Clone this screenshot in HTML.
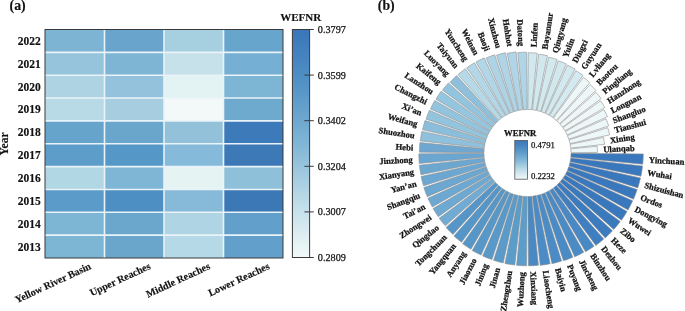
<!DOCTYPE html>
<html><head><meta charset="utf-8"><style>
html,body{margin:0;padding:0;background:#fff;}
svg{display:block;will-change:transform;}
text{font-family:"Liberation Serif", serif;fill:#111;stroke:#111;stroke-width:0.25px;}
text.h{stroke-width:0.15px;}
</style></head><body>
<svg width="685" height="311" viewBox="0 0 685 311">
<rect x="45.00" y="29.50" width="59.50" height="22.85" fill="#7db4d3"/>
<rect x="104.50" y="29.50" width="59.50" height="22.85" fill="#68a4cc"/>
<rect x="164.00" y="29.50" width="59.50" height="22.85" fill="#a6cfe0"/>
<rect x="223.50" y="29.50" width="59.50" height="22.85" fill="#68a5cd"/>
<rect x="45.00" y="52.35" width="59.50" height="22.85" fill="#95c4dc"/>
<rect x="104.50" y="52.35" width="59.50" height="22.85" fill="#7fb5d4"/>
<rect x="164.00" y="52.35" width="59.50" height="22.85" fill="#c6e1ea"/>
<rect x="223.50" y="52.35" width="59.50" height="22.85" fill="#75afd3"/>
<rect x="45.00" y="75.20" width="59.50" height="22.85" fill="#aed4e3"/>
<rect x="104.50" y="75.20" width="59.50" height="22.85" fill="#94c2dc"/>
<rect x="164.00" y="75.20" width="59.50" height="22.85" fill="#e3f2f2"/>
<rect x="223.50" y="75.20" width="59.50" height="22.85" fill="#7db5d5"/>
<rect x="45.00" y="98.05" width="59.50" height="22.85" fill="#b7dae6"/>
<rect x="104.50" y="98.05" width="59.50" height="22.85" fill="#a6cde0"/>
<rect x="164.00" y="98.05" width="59.50" height="22.85" fill="#f3f9f8"/>
<rect x="223.50" y="98.05" width="59.50" height="22.85" fill="#6ea9ce"/>
<rect x="45.00" y="120.90" width="59.50" height="22.85" fill="#66a4cc"/>
<rect x="104.50" y="120.90" width="59.50" height="22.85" fill="#6aa6cb"/>
<rect x="164.00" y="120.90" width="59.50" height="22.85" fill="#92c1d9"/>
<rect x="223.50" y="120.90" width="59.50" height="22.85" fill="#3d7ab9"/>
<rect x="45.00" y="143.75" width="59.50" height="22.85" fill="#5d9dca"/>
<rect x="104.50" y="143.75" width="59.50" height="22.85" fill="#5598c7"/>
<rect x="164.00" y="143.75" width="59.50" height="22.85" fill="#86badb"/>
<rect x="223.50" y="143.75" width="59.50" height="22.85" fill="#3d79b7"/>
<rect x="45.00" y="166.60" width="59.50" height="22.85" fill="#b1d6e4"/>
<rect x="104.50" y="166.60" width="59.50" height="22.85" fill="#80b6d5"/>
<rect x="164.00" y="166.60" width="59.50" height="22.85" fill="#e5f3f2"/>
<rect x="223.50" y="166.60" width="59.50" height="22.85" fill="#8fc0da"/>
<rect x="45.00" y="189.45" width="59.50" height="22.85" fill="#5a9bc9"/>
<rect x="104.50" y="189.45" width="59.50" height="22.85" fill="#4d8fc2"/>
<rect x="164.00" y="189.45" width="59.50" height="22.85" fill="#87bad9"/>
<rect x="223.50" y="189.45" width="59.50" height="22.85" fill="#3c78b6"/>
<rect x="45.00" y="212.30" width="59.50" height="22.85" fill="#7db5d4"/>
<rect x="104.50" y="212.30" width="59.50" height="22.85" fill="#6ba7cc"/>
<rect x="164.00" y="212.30" width="59.50" height="22.85" fill="#afd4e4"/>
<rect x="223.50" y="212.30" width="59.50" height="22.85" fill="#62a0cb"/>
<rect x="45.00" y="235.15" width="59.50" height="22.85" fill="#7db5d4"/>
<rect x="104.50" y="235.15" width="59.50" height="22.85" fill="#6aa6cc"/>
<rect x="164.00" y="235.15" width="59.50" height="22.85" fill="#b5d9e7"/>
<rect x="223.50" y="235.15" width="59.50" height="22.85" fill="#62a0cb"/>
<line x1="104.50" y1="29.5" x2="104.50" y2="258.0" stroke="#e9f3f8" stroke-width="1.6"/>
<line x1="164.00" y1="29.5" x2="164.00" y2="258.0" stroke="#e9f3f8" stroke-width="1.6"/>
<line x1="223.50" y1="29.5" x2="223.50" y2="258.0" stroke="#e9f3f8" stroke-width="1.6"/>
<line x1="45.0" y1="52.35" x2="283.0" y2="52.35" stroke="#e9f3f8" stroke-width="1.6"/>
<line x1="45.0" y1="75.20" x2="283.0" y2="75.20" stroke="#e9f3f8" stroke-width="1.6"/>
<line x1="45.0" y1="98.05" x2="283.0" y2="98.05" stroke="#e9f3f8" stroke-width="1.6"/>
<line x1="45.0" y1="120.90" x2="283.0" y2="120.90" stroke="#e9f3f8" stroke-width="1.6"/>
<line x1="45.0" y1="143.75" x2="283.0" y2="143.75" stroke="#e9f3f8" stroke-width="1.6"/>
<line x1="45.0" y1="166.60" x2="283.0" y2="166.60" stroke="#e9f3f8" stroke-width="1.6"/>
<line x1="45.0" y1="189.45" x2="283.0" y2="189.45" stroke="#e9f3f8" stroke-width="1.6"/>
<line x1="45.0" y1="212.30" x2="283.0" y2="212.30" stroke="#e9f3f8" stroke-width="1.6"/>
<line x1="45.0" y1="235.15" x2="283.0" y2="235.15" stroke="#e9f3f8" stroke-width="1.6"/>
<rect x="45.0" y="29.5" width="238.0" height="228.5" fill="none" stroke="#3a3a3a" stroke-width="1"/>
<text class="h" x="40.8" y="40.92" font-size="11.5" font-weight="bold" text-anchor="end" dominant-baseline="central">2022</text>
<text class="h" x="40.8" y="63.78" font-size="11.5" font-weight="bold" text-anchor="end" dominant-baseline="central">2021</text>
<text class="h" x="40.8" y="86.62" font-size="11.5" font-weight="bold" text-anchor="end" dominant-baseline="central">2020</text>
<text class="h" x="40.8" y="109.48" font-size="11.5" font-weight="bold" text-anchor="end" dominant-baseline="central">2019</text>
<text class="h" x="40.8" y="132.32" font-size="11.5" font-weight="bold" text-anchor="end" dominant-baseline="central">2018</text>
<text class="h" x="40.8" y="155.18" font-size="11.5" font-weight="bold" text-anchor="end" dominant-baseline="central">2017</text>
<text class="h" x="40.8" y="178.03" font-size="11.5" font-weight="bold" text-anchor="end" dominant-baseline="central">2016</text>
<text class="h" x="40.8" y="200.88" font-size="11.5" font-weight="bold" text-anchor="end" dominant-baseline="central">2015</text>
<text class="h" x="40.8" y="223.73" font-size="11.5" font-weight="bold" text-anchor="end" dominant-baseline="central">2014</text>
<text class="h" x="40.8" y="246.58" font-size="11.5" font-weight="bold" text-anchor="end" dominant-baseline="central">2013</text>
<text class="h" transform="translate(8.3,144) rotate(-90)" font-size="11.5" font-weight="bold" text-anchor="middle" dominant-baseline="auto">Year</text>
<text class="h" transform="translate(91.75,268.5) rotate(-25)" font-size="10.2" font-weight="bold" text-anchor="end">Yellow River Basin</text>
<text class="h" transform="translate(151.25,268.5) rotate(-25)" font-size="10.2" font-weight="bold" text-anchor="end">Upper Reaches</text>
<text class="h" transform="translate(210.75,268.5) rotate(-25)" font-size="10.2" font-weight="bold" text-anchor="end">Middle Reaches</text>
<text class="h" transform="translate(270.25,268.5) rotate(-25)" font-size="10.2" font-weight="bold" text-anchor="end">Lower Reaches</text>
<defs><linearGradient id="cbA" x1="0" y1="1" x2="0" y2="0"><stop offset="0" stop-color="#f2f9f7"/><stop offset="0.12" stop-color="#d9ebf0"/><stop offset="0.25" stop-color="#bcdbe8"/><stop offset="0.5" stop-color="#80b5d6"/><stop offset="0.75" stop-color="#5494c6"/><stop offset="0.87" stop-color="#4685c0"/><stop offset="1" stop-color="#3a76b9"/></linearGradient><linearGradient id="cbB" x1="0" y1="1" x2="0" y2="0"><stop offset="0" stop-color="#f2f9f7"/><stop offset="0.12" stop-color="#d9ebf0"/><stop offset="0.25" stop-color="#bcdbe8"/><stop offset="0.5" stop-color="#80b5d6"/><stop offset="0.75" stop-color="#5494c6"/><stop offset="0.87" stop-color="#4685c0"/><stop offset="1" stop-color="#3a76b9"/></linearGradient></defs>
<rect x="292.4" y="29.5" width="17.20" height="228.00" fill="url(#cbA)" stroke="#3a3a3a" stroke-width="1"/>
<line x1="304.40" y1="257.50" x2="313.80" y2="257.50" stroke="#3a3a3a" stroke-width="1"/>
<text x="317.8" y="257.50" font-size="10.2" dominant-baseline="central">0.2809</text>
<line x1="304.40" y1="211.90" x2="313.80" y2="211.90" stroke="#3a3a3a" stroke-width="1"/>
<text x="317.8" y="211.90" font-size="10.2" dominant-baseline="central">0.3007</text>
<line x1="304.40" y1="166.30" x2="313.80" y2="166.30" stroke="#3a3a3a" stroke-width="1"/>
<text x="317.8" y="166.30" font-size="10.2" dominant-baseline="central">0.3204</text>
<line x1="304.40" y1="120.70" x2="313.80" y2="120.70" stroke="#3a3a3a" stroke-width="1"/>
<text x="317.8" y="120.70" font-size="10.2" dominant-baseline="central">0.3402</text>
<line x1="304.40" y1="75.10" x2="313.80" y2="75.10" stroke="#3a3a3a" stroke-width="1"/>
<text x="317.8" y="75.10" font-size="10.2" dominant-baseline="central">0.3599</text>
<line x1="304.40" y1="29.50" x2="313.80" y2="29.50" stroke="#3a3a3a" stroke-width="1"/>
<text x="317.8" y="29.50" font-size="10.2" dominant-baseline="central">0.3797</text>
<text class="h" x="280.2" y="21" font-size="11" font-weight="bold">WEFNR</text>
<text class="h" x="9.6" y="9.8" font-size="13.8" font-weight="bold" dominant-baseline="auto">(a)</text>
<text class="h" x="377.8" y="9.8" font-size="13.8" font-weight="bold" dominant-baseline="auto">(b)</text>
<path d="M571.00,153.34 L643.30,153.91 A115.80,115.80 0 0 1 642.76,164.20 L570.80,157.21 A43.5,43.5 0 0 0 571.00,153.34 Z" fill="#3a78bd" stroke="#8e8e8e" stroke-width="0.6" stroke-linejoin="miter"/>
<path d="M570.72,157.89 L642.57,166.01 A115.80,115.80 0 0 1 640.96,176.19 L570.12,161.71 A43.5,43.5 0 0 0 570.72,157.89 Z" fill="#3a78bd" stroke="#8e8e8e" stroke-width="0.6" stroke-linejoin="miter"/>
<path d="M569.98,162.38 L640.50,177.95 A115.72,115.72 0 0 1 637.84,187.90 L568.98,166.12 A43.5,43.5 0 0 0 569.98,162.38 Z" fill="#3a78bd" stroke="#8e8e8e" stroke-width="0.6" stroke-linejoin="miter"/>
<path d="M568.76,166.77 L637.21,189.60 A115.65,115.65 0 0 1 633.52,199.21 L567.38,170.38 A43.5,43.5 0 0 0 568.76,166.77 Z" fill="#3a78bd" stroke="#8e8e8e" stroke-width="0.6" stroke-linejoin="miter"/>
<path d="M567.10,171.00 L632.71,200.84 A115.58,115.58 0 0 1 628.04,210.00 L565.34,174.45 A43.5,43.5 0 0 0 567.10,171.00 Z" fill="#3a78bd" stroke="#8e8e8e" stroke-width="0.6" stroke-linejoin="miter"/>
<path d="M565.00,175.05 L627.07,211.53 A115.50,115.50 0 0 1 621.47,220.15 L562.89,178.29 A43.5,43.5 0 0 0 565.00,175.05 Z" fill="#3a78bd" stroke="#8e8e8e" stroke-width="0.6" stroke-linejoin="miter"/>
<path d="M562.49,178.84 L620.27,221.52 A115.33,115.33 0 0 1 613.81,229.50 L560.05,181.85 A43.5,43.5 0 0 0 562.49,178.84 Z" fill="#3b79bd" stroke="#8e8e8e" stroke-width="0.6" stroke-linejoin="miter"/>
<path d="M559.60,182.36 L612.48,230.73 A115.17,115.17 0 0 1 605.23,237.98 L556.86,185.10 A43.5,43.5 0 0 0 559.60,182.36 Z" fill="#3c7bbe" stroke="#8e8e8e" stroke-width="0.6" stroke-linejoin="miter"/>
<path d="M556.35,185.55 L603.78,239.06 A115.00,115.00 0 0 1 595.82,245.50 L553.34,187.99 A43.5,43.5 0 0 0 556.35,185.55 Z" fill="#3f7ec0" stroke="#8e8e8e" stroke-width="0.6" stroke-linejoin="miter"/>
<path d="M552.79,188.39 L594.09,246.19 A114.53,114.53 0 0 1 585.54,251.74 L549.55,190.50 A43.5,43.5 0 0 0 552.79,188.39 Z" fill="#4888c5" stroke="#8e8e8e" stroke-width="0.6" stroke-linejoin="miter"/>
<path d="M548.95,190.84 L583.76,252.23 A114.07,114.07 0 0 1 574.71,256.84 L545.50,192.60 A43.5,43.5 0 0 0 548.95,190.84 Z" fill="#4a8bc6" stroke="#8e8e8e" stroke-width="0.6" stroke-linejoin="miter"/>
<path d="M544.88,192.88 L572.89,257.14 A113.60,113.60 0 0 1 563.45,260.76 L541.27,194.26 A43.5,43.5 0 0 0 544.88,192.88 Z" fill="#4a8bc6" stroke="#8e8e8e" stroke-width="0.6" stroke-linejoin="miter"/>
<path d="M540.62,194.48 L561.67,261.06 A113.33,113.33 0 0 1 551.93,263.67 L536.88,195.48 A43.5,43.5 0 0 0 540.62,194.48 Z" fill="#4b8cc6" stroke="#8e8e8e" stroke-width="0.6" stroke-linejoin="miter"/>
<path d="M536.21,195.62 L550.14,263.78 A113.07,113.07 0 0 1 540.20,265.35 L532.39,196.22 A43.5,43.5 0 0 0 536.21,195.62 Z" fill="#4b8cc6" stroke="#8e8e8e" stroke-width="0.6" stroke-linejoin="miter"/>
<path d="M531.71,196.30 L538.41,265.27 A112.80,112.80 0 0 1 528.39,265.80 L527.84,196.50 A43.5,43.5 0 0 0 531.71,196.30 Z" fill="#4a8ac4" stroke="#8e8e8e" stroke-width="0.6" stroke-linejoin="miter"/>
<path d="M527.16,196.50 L526.61,265.80 A112.80,112.80 0 0 1 516.59,265.27 L523.29,196.30 A43.5,43.5 0 0 0 527.16,196.50 Z" fill="#5c9ecb" stroke="#8e8e8e" stroke-width="0.6" stroke-linejoin="miter"/>
<path d="M522.61,196.22 L514.83,265.09 A112.80,112.80 0 0 1 504.91,263.52 L518.79,195.62 A43.5,43.5 0 0 0 522.61,196.22 Z" fill="#5a9dca" stroke="#8e8e8e" stroke-width="0.6" stroke-linejoin="miter"/>
<path d="M518.12,195.48 L503.23,262.92 A112.57,112.57 0 0 1 493.56,260.33 L514.38,194.48 A43.5,43.5 0 0 0 518.12,195.48 Z" fill="#5a9bca" stroke="#8e8e8e" stroke-width="0.6" stroke-linejoin="miter"/>
<path d="M513.73,194.26 L491.95,259.56 A112.33,112.33 0 0 1 482.62,255.98 L510.12,192.88 A43.5,43.5 0 0 0 513.73,194.26 Z" fill="#5899c9" stroke="#8e8e8e" stroke-width="0.6" stroke-linejoin="miter"/>
<path d="M509.50,192.60 L481.10,255.05 A112.10,112.10 0 0 1 472.21,250.52 L506.05,190.84 A43.5,43.5 0 0 0 509.50,192.60 Z" fill="#5798c8" stroke="#8e8e8e" stroke-width="0.6" stroke-linejoin="miter"/>
<path d="M505.45,190.50 L470.98,249.15 A111.53,111.53 0 0 1 462.65,243.74 L502.21,188.39 A43.5,43.5 0 0 0 505.45,190.50 Z" fill="#5697c8" stroke="#8e8e8e" stroke-width="0.6" stroke-linejoin="miter"/>
<path d="M501.66,187.99 L461.57,242.26 A110.97,110.97 0 0 1 453.90,236.04 L498.65,185.55 A43.5,43.5 0 0 0 501.66,187.99 Z" fill="#5596c8" stroke="#8e8e8e" stroke-width="0.6" stroke-linejoin="miter"/>
<path d="M498.14,185.10 L452.99,234.46 A110.40,110.40 0 0 1 446.04,227.51 L495.40,182.36 A43.5,43.5 0 0 0 498.14,185.10 Z" fill="#5595c7" stroke="#8e8e8e" stroke-width="0.6" stroke-linejoin="miter"/>
<path d="M494.95,181.85 L445.33,225.83 A109.80,109.80 0 0 1 439.18,218.23 L492.51,178.84 A43.5,43.5 0 0 0 494.95,181.85 Z" fill="#70abd3" stroke="#8e8e8e" stroke-width="0.6" stroke-linejoin="miter"/>
<path d="M492.11,178.29 L438.33,216.72 A109.60,109.60 0 0 1 433.02,208.54 L490.00,175.05 A43.5,43.5 0 0 0 492.11,178.29 Z" fill="#6ea9d2" stroke="#8e8e8e" stroke-width="0.6" stroke-linejoin="miter"/>
<path d="M489.66,174.45 L432.33,206.95 A109.40,109.40 0 0 1 427.91,198.28 L487.90,171.00 A43.5,43.5 0 0 0 489.66,174.45 Z" fill="#6ca8d1" stroke="#8e8e8e" stroke-width="0.6" stroke-linejoin="miter"/>
<path d="M487.62,170.38 L427.30,196.67 A109.30,109.30 0 0 1 423.82,187.59 L486.24,166.77 A43.5,43.5 0 0 0 487.62,170.38 Z" fill="#6ba7d1" stroke="#8e8e8e" stroke-width="0.6" stroke-linejoin="miter"/>
<path d="M486.02,166.12 L423.57,185.87 A109.00,109.00 0 0 1 421.06,176.50 L485.02,162.38 A43.5,43.5 0 0 0 486.02,166.12 Z" fill="#6ca7d1" stroke="#8e8e8e" stroke-width="0.6" stroke-linejoin="miter"/>
<path d="M484.88,161.71 L420.90,174.78 A108.80,108.80 0 0 1 419.39,165.22 L484.28,157.89 A43.5,43.5 0 0 0 484.88,161.71 Z" fill="#6ca7d0" stroke="#8e8e8e" stroke-width="0.6" stroke-linejoin="miter"/>
<path d="M484.20,157.21 L419.31,163.51 A108.70,108.70 0 0 1 418.80,153.85 L484.00,153.34 A43.5,43.5 0 0 0 484.20,157.21 Z" fill="#6ba6d0" stroke="#8e8e8e" stroke-width="0.6" stroke-linejoin="miter"/>
<path d="M484.00,152.66 L419.40,152.15 A108.10,108.10 0 0 1 419.91,142.55 L484.20,148.79 A43.5,43.5 0 0 0 484.00,152.66 Z" fill="#6fa7d0" stroke="#8e8e8e" stroke-width="0.6" stroke-linejoin="miter"/>
<path d="M484.28,148.11 L420.28,140.88 A107.90,107.90 0 0 1 421.78,131.40 L484.88,144.29 A43.5,43.5 0 0 0 484.28,148.11 Z" fill="#8fc0dc" stroke="#8e8e8e" stroke-width="0.6" stroke-linejoin="miter"/>
<path d="M485.02,143.62 L422.53,129.82 A107.50,107.50 0 0 1 425.00,120.58 L486.02,139.88 A43.5,43.5 0 0 0 485.02,143.62 Z" fill="#8bbedb" stroke="#8e8e8e" stroke-width="0.6" stroke-linejoin="miter"/>
<path d="M486.24,139.23 L426.00,119.14 A107.00,107.00 0 0 1 429.41,110.25 L487.62,135.62 A43.5,43.5 0 0 0 486.24,139.23 Z" fill="#93c4de" stroke="#8e8e8e" stroke-width="0.6" stroke-linejoin="miter"/>
<path d="M487.90,135.00 L430.46,108.88 A106.60,106.60 0 0 1 434.77,100.43 L489.66,131.55 A43.5,43.5 0 0 0 487.90,135.00 Z" fill="#93c4de" stroke="#8e8e8e" stroke-width="0.6" stroke-linejoin="miter"/>
<path d="M490.00,130.95 L435.95,99.18 A106.20,106.20 0 0 1 441.09,91.25 L492.11,127.71 A43.5,43.5 0 0 0 490.00,130.95 Z" fill="#95c6df" stroke="#8e8e8e" stroke-width="0.6" stroke-linejoin="miter"/>
<path d="M492.51,127.16 L442.48,90.20 A105.70,105.70 0 0 1 448.40,82.89 L494.95,124.15 A43.5,43.5 0 0 0 492.51,127.16 Z" fill="#93c4de" stroke="#8e8e8e" stroke-width="0.6" stroke-linejoin="miter"/>
<path d="M495.40,123.64 L450.10,82.20 A104.90,104.90 0 0 1 456.70,75.60 L498.14,120.90 A43.5,43.5 0 0 0 495.40,123.64 Z" fill="#8ec0dc" stroke="#8e8e8e" stroke-width="0.6" stroke-linejoin="miter"/>
<path d="M498.65,120.45 L458.01,74.60 A104.77,104.77 0 0 1 465.26,68.73 L501.66,118.01 A43.5,43.5 0 0 0 498.65,120.45 Z" fill="#b6d9e8" stroke="#8e8e8e" stroke-width="0.6" stroke-linejoin="miter"/>
<path d="M502.21,117.61 L466.66,67.87 A104.63,104.63 0 0 1 474.47,62.80 L505.45,115.50 A43.5,43.5 0 0 0 502.21,117.61 Z" fill="#b3d7e7" stroke="#8e8e8e" stroke-width="0.6" stroke-linejoin="miter"/>
<path d="M506.05,115.16 L475.96,62.09 A104.50,104.50 0 0 1 484.25,57.87 L509.50,113.40 A43.5,43.5 0 0 0 506.05,115.16 Z" fill="#b1d6e7" stroke="#8e8e8e" stroke-width="0.6" stroke-linejoin="miter"/>
<path d="M510.12,113.12 L486.12,58.05 A103.58,103.58 0 0 1 494.72,54.75 L513.73,111.74 A43.5,43.5 0 0 0 510.12,113.12 Z" fill="#aed3e5" stroke="#8e8e8e" stroke-width="0.6" stroke-linejoin="miter"/>
<path d="M514.38,111.52 L496.55,55.13 A102.65,102.65 0 0 1 505.37,52.76 L518.12,110.52 A43.5,43.5 0 0 0 514.38,111.52 Z" fill="#afd4e6" stroke="#8e8e8e" stroke-width="0.6" stroke-linejoin="miter"/>
<path d="M518.79,110.38 L507.13,53.33 A101.72,101.72 0 0 1 516.07,51.92 L522.61,109.78 A43.5,43.5 0 0 0 518.79,110.38 Z" fill="#b1d5e7" stroke="#8e8e8e" stroke-width="0.6" stroke-linejoin="miter"/>
<path d="M523.29,109.70 L517.75,52.67 A100.80,100.80 0 0 1 526.71,52.20 L527.16,109.50 A43.5,43.5 0 0 0 523.29,109.70 Z" fill="#b0d5e6" stroke="#8e8e8e" stroke-width="0.6" stroke-linejoin="miter"/>
<path d="M527.84,109.50 L528.29,52.70 A100.30,100.30 0 0 1 537.20,53.17 L531.71,109.70 A43.5,43.5 0 0 0 527.84,109.50 Z" fill="#d0e8ee" stroke="#8e8e8e" stroke-width="0.6" stroke-linejoin="miter"/>
<path d="M532.39,109.78 L538.67,54.23 A99.40,99.40 0 0 1 547.40,55.61 L536.21,110.38 A43.5,43.5 0 0 0 532.39,109.78 Z" fill="#d1e8ef" stroke="#8e8e8e" stroke-width="0.6" stroke-linejoin="miter"/>
<path d="M536.88,110.52 L548.65,57.21 A98.10,98.10 0 0 1 557.08,59.47 L540.62,111.52 A43.5,43.5 0 0 0 536.88,110.52 Z" fill="#d2e9ef" stroke="#8e8e8e" stroke-width="0.6" stroke-linejoin="miter"/>
<path d="M541.27,111.74 L558.26,60.80 A97.20,97.20 0 0 1 566.34,63.90 L544.88,113.12 A43.5,43.5 0 0 0 541.27,111.74 Z" fill="#d1e8ef" stroke="#8e8e8e" stroke-width="0.6" stroke-linejoin="miter"/>
<path d="M545.50,113.40 L567.44,65.15 A96.50,96.50 0 0 1 575.09,69.05 L548.95,115.16 A43.5,43.5 0 0 0 545.50,113.40 Z" fill="#d2e9ef" stroke="#8e8e8e" stroke-width="0.6" stroke-linejoin="miter"/>
<path d="M549.55,115.50 L575.90,70.67 A95.50,95.50 0 0 1 583.02,75.30 L552.79,117.61 A43.5,43.5 0 0 0 549.55,115.50 Z" fill="#d3eaf0" stroke="#8e8e8e" stroke-width="0.6" stroke-linejoin="miter"/>
<path d="M553.34,118.01 L583.35,77.39 A94.00,94.00 0 0 1 589.85,82.65 L556.35,120.45 A43.5,43.5 0 0 0 553.34,118.01 Z" fill="#eef7f7" stroke="#8e8e8e" stroke-width="0.6" stroke-linejoin="miter"/>
<path d="M556.86,120.90 L590.14,84.53 A92.80,92.80 0 0 1 595.97,90.36 L559.60,123.64 A43.5,43.5 0 0 0 556.86,120.90 Z" fill="#eef7f7" stroke="#8e8e8e" stroke-width="0.6" stroke-linejoin="miter"/>
<path d="M560.05,124.15 L595.98,92.31 A91.50,91.50 0 0 1 601.10,98.64 L562.49,127.16 A43.5,43.5 0 0 0 560.05,124.15 Z" fill="#eef7f7" stroke="#8e8e8e" stroke-width="0.6" stroke-linejoin="miter"/>
<path d="M562.89,127.71 L600.48,100.85 A89.70,89.70 0 0 1 604.83,107.54 L565.00,130.95 A43.5,43.5 0 0 0 562.89,127.71 Z" fill="#eef7f7" stroke="#8e8e8e" stroke-width="0.6" stroke-linejoin="miter"/>
<path d="M565.34,131.55 L603.97,109.65 A87.90,87.90 0 0 1 607.52,116.62 L567.10,135.00 A43.5,43.5 0 0 0 565.34,131.55 Z" fill="#eef7f7" stroke="#8e8e8e" stroke-width="0.6" stroke-linejoin="miter"/>
<path d="M567.38,135.62 L605.97,118.80 A85.60,85.60 0 0 1 608.70,125.91 L568.76,139.23 A43.5,43.5 0 0 0 567.38,135.62 Z" fill="#eef7f7" stroke="#8e8e8e" stroke-width="0.6" stroke-linejoin="miter"/>
<path d="M568.98,139.88 L607.69,127.64 A84.10,84.10 0 0 1 609.62,134.87 L569.98,143.62 A43.5,43.5 0 0 0 568.98,139.88 Z" fill="#eef7f7" stroke="#8e8e8e" stroke-width="0.6" stroke-linejoin="miter"/>
<path d="M570.12,144.29 L603.53,137.46 A77.60,77.60 0 0 1 604.61,144.28 L570.72,148.11 A43.5,43.5 0 0 0 570.12,144.29 Z" fill="#eef7f7" stroke="#8e8e8e" stroke-width="0.6" stroke-linejoin="miter"/>
<path d="M570.80,148.79 L597.17,146.23 A70.00,70.00 0 0 1 597.50,152.45 L571.00,152.66 A43.5,43.5 0 0 0 570.80,148.79 Z" fill="#eef7f7" stroke="#8e8e8e" stroke-width="0.6" stroke-linejoin="miter"/>
<text transform="translate(648.93,159.36) rotate(3.0)" font-size="8.6" font-weight="bold" text-anchor="start" dominant-baseline="central" dy="0.5">Yinchuan</text>
<text transform="translate(647.60,172.02) rotate(9.0)" font-size="8.6" font-weight="bold" text-anchor="start" dominant-baseline="central" dy="0.5">Wuhai</text>
<text transform="translate(644.88,184.45) rotate(15.0)" font-size="8.6" font-weight="bold" text-anchor="start" dominant-baseline="central" dy="0.5">Shizuishan</text>
<text transform="translate(640.88,196.52) rotate(21.0)" font-size="8.6" font-weight="bold" text-anchor="start" dominant-baseline="central" dy="0.5">Ordos</text>
<text transform="translate(635.65,208.10) rotate(27.0)" font-size="8.6" font-weight="bold" text-anchor="start" dominant-baseline="central" dy="0.5">Dongying</text>
<text transform="translate(629.23,219.06) rotate(33.0)" font-size="8.6" font-weight="bold" text-anchor="start" dominant-baseline="central" dy="0.5">Wuwei</text>
<text transform="translate(621.64,229.23) rotate(39.0)" font-size="8.6" font-weight="bold" text-anchor="start" dominant-baseline="central" dy="0.5">Zibo</text>
<text transform="translate(613.04,238.54) rotate(45.0)" font-size="8.6" font-weight="bold" text-anchor="start" dominant-baseline="central" dy="0.5">Heze</text>
<text transform="translate(603.52,246.88) rotate(51.0)" font-size="8.6" font-weight="bold" text-anchor="start" dominant-baseline="central" dy="0.5">Dezhou</text>
<text transform="translate(593.04,253.92) rotate(57.0)" font-size="8.6" font-weight="bold" text-anchor="start" dominant-baseline="central" dy="0.5">Binzhou</text>
<text transform="translate(581.92,259.80) rotate(63.0)" font-size="8.6" font-weight="bold" text-anchor="start" dominant-baseline="central" dy="0.5">Jincheng</text>
<text transform="translate(570.29,264.47) rotate(69.0)" font-size="8.6" font-weight="bold" text-anchor="start" dominant-baseline="central" dy="0.5">Puyang</text>
<text transform="translate(558.33,268.07) rotate(75.0)" font-size="8.6" font-weight="bold" text-anchor="start" dominant-baseline="central" dy="0.5">Baiyin</text>
<text transform="translate(546.09,270.40) rotate(81.0)" font-size="8.6" font-weight="bold" text-anchor="start" dominant-baseline="central" dy="0.5">Liaocheng</text>
<text transform="translate(533.71,271.44) rotate(87.0)" font-size="8.6" font-weight="bold" text-anchor="start" dominant-baseline="central" dy="0.5">Xinxiang</text>
<text transform="translate(521.27,271.94) rotate(-87.0)" font-size="8.6" font-weight="bold" text-anchor="end" dominant-baseline="central" dy="0.5">Wuzhong</text>
<text transform="translate(508.87,270.63) rotate(-81.0)" font-size="8.6" font-weight="bold" text-anchor="end" dominant-baseline="central" dy="0.5">Zhengzhou</text>
<text transform="translate(496.74,267.82) rotate(-75.0)" font-size="8.6" font-weight="bold" text-anchor="end" dominant-baseline="central" dy="0.5">Jinan</text>
<text transform="translate(484.99,263.75) rotate(-69.0)" font-size="8.6" font-weight="bold" text-anchor="end" dominant-baseline="central" dy="0.5">Jining</text>
<text transform="translate(473.75,258.50) rotate(-63.0)" font-size="8.6" font-weight="bold" text-anchor="end" dominant-baseline="central" dy="0.5">Jiaozuo</text>
<text transform="translate(463.32,251.82) rotate(-57.0)" font-size="8.6" font-weight="bold" text-anchor="end" dominant-baseline="central" dy="0.5">Anyang</text>
<text transform="translate(453.70,244.13) rotate(-51.0)" font-size="8.6" font-weight="bold" text-anchor="end" dominant-baseline="central" dy="0.5">Yangquan</text>
<text transform="translate(444.98,235.52) rotate(-45.0)" font-size="8.6" font-weight="bold" text-anchor="end" dominant-baseline="central" dy="0.5">Tongchuan</text>
<text transform="translate(437.27,226.06) rotate(-39.0)" font-size="8.6" font-weight="bold" text-anchor="end" dominant-baseline="central" dy="0.5">Qingdao</text>
<text transform="translate(430.30,216.12) rotate(-33.0)" font-size="8.6" font-weight="bold" text-anchor="end" dominant-baseline="central" dy="0.5">Zhongwei</text>
<text transform="translate(424.41,205.53) rotate(-27.0)" font-size="8.6" font-weight="bold" text-anchor="end" dominant-baseline="central" dy="0.5">Tai’an</text>
<text transform="translate(419.58,194.43) rotate(-21.0)" font-size="8.6" font-weight="bold" text-anchor="end" dominant-baseline="central" dy="0.5">Shangqiu</text>
<text transform="translate(416.13,182.84) rotate(-15.0)" font-size="8.6" font-weight="bold" text-anchor="end" dominant-baseline="central" dy="0.5">Yan’an</text>
<text transform="translate(413.82,171.01) rotate(-9.0)" font-size="8.6" font-weight="bold" text-anchor="end" dominant-baseline="central" dy="0.5">Xianyang</text>
<text transform="translate(412.66,159.02) rotate(-3.0)" font-size="8.6" font-weight="bold" text-anchor="end" dominant-baseline="central" dy="0.5">Jinzhong</text>
<text transform="translate(413.26,147.01) rotate(3.0)" font-size="8.6" font-weight="bold" text-anchor="end" dominant-baseline="central" dy="0.5">Hebi</text>
<text transform="translate(414.71,135.14) rotate(9.0)" font-size="8.6" font-weight="bold" text-anchor="end" dominant-baseline="central" dy="0.5">Shuozhou</text>
<text transform="translate(417.58,123.55) rotate(15.0)" font-size="8.6" font-weight="bold" text-anchor="end" dominant-baseline="central" dy="0.5">Weifang</text>
<text transform="translate(421.73,112.40) rotate(21.0)" font-size="8.6" font-weight="bold" text-anchor="end" dominant-baseline="central" dy="0.5">Xi’an</text>
<text transform="translate(426.91,101.74) rotate(27.0)" font-size="8.6" font-weight="bold" text-anchor="end" dominant-baseline="central" dy="0.5">Changzhi</text>
<text transform="translate(433.15,91.73) rotate(33.0)" font-size="8.6" font-weight="bold" text-anchor="end" dominant-baseline="central" dy="0.5">Lanzhou</text>
<text transform="translate(440.46,82.52) rotate(39.0)" font-size="8.6" font-weight="bold" text-anchor="end" dominant-baseline="central" dy="0.5">Kaifeng</text>
<text transform="translate(448.87,74.37) rotate(45.0)" font-size="8.6" font-weight="bold" text-anchor="end" dominant-baseline="central" dy="0.5">Luoyang</text>
<text transform="translate(457.60,66.68) rotate(51.0)" font-size="8.6" font-weight="bold" text-anchor="end" dominant-baseline="central" dy="0.5">Taiyuan</text>
<text transform="translate(467.08,59.96) rotate(57.0)" font-size="8.6" font-weight="bold" text-anchor="end" dominant-baseline="central" dy="0.5">Yuncheng</text>
<text transform="translate(477.20,54.28) rotate(63.0)" font-size="8.6" font-weight="bold" text-anchor="end" dominant-baseline="central" dy="0.5">Weinan</text>
<text transform="translate(488.12,50.42) rotate(69.0)" font-size="8.6" font-weight="bold" text-anchor="end" dominant-baseline="central" dy="0.5">Baoji</text>
<text transform="translate(499.30,47.76) rotate(75.0)" font-size="8.6" font-weight="bold" text-anchor="end" dominant-baseline="central" dy="0.5">Xinzhou</text>
<text transform="translate(510.60,46.30) rotate(81.0)" font-size="8.6" font-weight="bold" text-anchor="end" dominant-baseline="central" dy="0.5">Hohhot</text>
<text transform="translate(521.89,46.05) rotate(87.0)" font-size="8.6" font-weight="bold" text-anchor="end" dominant-baseline="central" dy="0.5">Datong</text>
<text transform="translate(533.05,47.05) rotate(273.0)" font-size="8.6" font-weight="bold" text-anchor="start" dominant-baseline="central" dy="0.5">Linfen</text>
<text transform="translate(543.96,49.10) rotate(279.0)" font-size="8.6" font-weight="bold" text-anchor="start" dominant-baseline="central" dy="0.5">Bayannur</text>
<text transform="translate(554.39,52.64) rotate(285.0)" font-size="8.6" font-weight="bold" text-anchor="start" dominant-baseline="central" dy="0.5">Qingyang</text>
<text transform="translate(564.41,56.84) rotate(291.0)" font-size="8.6" font-weight="bold" text-anchor="start" dominant-baseline="central" dy="0.5">Yulin</text>
<text transform="translate(573.94,61.85) rotate(297.0)" font-size="8.6" font-weight="bold" text-anchor="start" dominant-baseline="central" dy="0.5">Dingxi</text>
<text transform="translate(582.67,68.04) rotate(303.0)" font-size="8.6" font-weight="bold" text-anchor="start" dominant-baseline="central" dy="0.5">Guyuan</text>
<text transform="translate(590.31,75.44) rotate(309.0)" font-size="8.6" font-weight="bold" text-anchor="start" dominant-baseline="central" dy="0.5">Lvliang</text>
<text transform="translate(597.22,83.28) rotate(315.0)" font-size="8.6" font-weight="bold" text-anchor="start" dominant-baseline="central" dy="0.5">Baotou</text>
<text transform="translate(603.12,91.77) rotate(321.0)" font-size="8.6" font-weight="bold" text-anchor="start" dominant-baseline="central" dy="0.5">Pingliang</text>
<text transform="translate(607.59,100.99) rotate(327.0)" font-size="8.6" font-weight="bold" text-anchor="start" dominant-baseline="central" dy="0.5">Hanzhong</text>
<text transform="translate(610.99,110.46) rotate(333.0)" font-size="8.6" font-weight="bold" text-anchor="start" dominant-baseline="central" dy="0.5">Longnan</text>
<text transform="translate(612.83,120.25) rotate(339.0)" font-size="8.6" font-weight="bold" text-anchor="start" dominant-baseline="central" dy="0.5">Shangluo</text>
<text transform="translate(614.34,129.73) rotate(345.0)" font-size="8.6" font-weight="bold" text-anchor="start" dominant-baseline="central" dy="0.5">Tianshui</text>
<text transform="translate(609.87,139.95) rotate(351.0)" font-size="8.6" font-weight="bold" text-anchor="start" dominant-baseline="central" dy="0.5">Xining</text>
<text transform="translate(603.20,149.03) rotate(357.0)" font-size="8.6" font-weight="bold" text-anchor="start" dominant-baseline="central" dy="0.5">Ulanqab</text>
<rect x="514.8" y="140.4" width="12.80" height="38.80" fill="url(#cbB)" stroke="#555" stroke-width="0.8"/>
<text x="504.1" y="135.7" font-size="8.6" font-weight="bold">WEFNR</text>
<text x="531.0" y="147.7" font-size="8.7">0.4791</text>
<text x="531.0" y="178.8" font-size="8.7">0.2232</text>
</svg>
</body></html>
